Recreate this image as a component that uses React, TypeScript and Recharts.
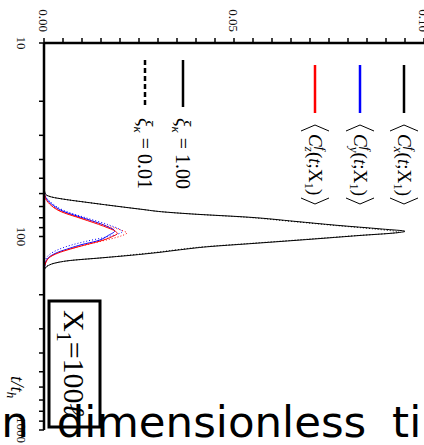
import { LineChart, Line, XAxis, YAxis } from "recharts";

// axis ticks (time is log scale)
const X_TICKS = [10, 20, 30, 40, 50, 60, 70, 80, 90, 100, 200, 300, 400, 500, 600, 700, 800, 900, 1000];
const X_LABELED = [10, 100, 1000];
const Y_TICKS = [
  0, 0.005, 0.01, 0.015, 0.02, 0.025, 0.03, 0.035, 0.04, 0.045, 0.05,
  0.055, 0.06, 0.065, 0.07, 0.075, 0.08, 0.085, 0.09, 0.095, 0.1,
];
const Y_LABELS: Record<string, string> = { "0": "0.00", "0.05": "0.05", "0.1": "0.10" };

// <C_x^f>, xi = 1.00 (solid) and xi = 0.01 (dotted)
const tCx1 = [10, 30, 55, 60, 62.5, 64.5, 66.5, 68.5, 70.5, 72.5, 74.5, 76.5, 79.5, 83.5, 87.5, 91.5, 94, 96, 98.5, 102, 105.5, 109, 113, 117, 121, 125, 129, 133, 137, 141, 146, 152, 200, 1000];
const cx1 = [0, 0, 0, 0.0003, 0.002, 0.006, 0.011, 0.016, 0.021, 0.026, 0.031, 0.039, 0.054, 0.066, 0.077, 0.089, 0.095, 0.092, 0.084, 0.074, 0.064, 0.054, 0.043, 0.036, 0.03, 0.023, 0.015, 0.007, 0.003, 0.0012, 0.0003, 0, 0, 0];
const tCx001 = [10, 55, 60, 62.5, 64.5, 66.5, 68.5, 70.5, 72.5, 74.5, 76.5, 79.5, 83.5, 87.5, 91.5, 95, 97, 99, 102, 105.5, 109, 113, 117, 121, 125, 129, 133, 137, 141, 146, 152, 1000];
const cx001 = [0, 0, 0.0003, 0.002, 0.006, 0.011, 0.016, 0.021, 0.026, 0.031, 0.039, 0.053, 0.065, 0.076, 0.087, 0.0935, 0.089, 0.082, 0.073, 0.063, 0.053, 0.042, 0.035, 0.029, 0.022, 0.015, 0.007, 0.003, 0.0012, 0.0003, 0, 0];

// <C_y^f>
const tCy1 = [10, 56, 60, 62.5, 68, 74, 81, 88.5, 93.7, 98.5, 105.5, 110, 115, 121, 127, 135, 142, 155, 1000];
const cy1 = [0, 0, 0.0001, 0.0004, 0.002, 0.005, 0.011, 0.0165, 0.0186, 0.017, 0.0139, 0.01, 0.0068, 0.0035, 0.0015, 0.0005, 0.0002, 0, 0];
const tCy001 = [10, 56, 62, 67, 73, 80, 87, 92, 94.5, 97, 101, 106, 111, 117, 124, 132, 140, 152, 1000];
const cy001 = [0, 0, 0.0004, 0.002, 0.005, 0.011, 0.017, 0.02, 0.0206, 0.0195, 0.016, 0.011, 0.007, 0.0037, 0.0014, 0.0004, 0.0001, 0, 0];

// <C_z^f>
const tCz1 = [10, 56, 62.5, 68, 74, 81, 88.5, 94, 96.5, 100, 106, 111, 116, 122, 128, 136, 145, 158, 1000];
const cz1 = [0, 0, 0.0003, 0.0015, 0.0042, 0.01, 0.0157, 0.0188, 0.0193, 0.018, 0.0145, 0.0105, 0.007, 0.0036, 0.0015, 0.0005, 0.0001, 0, 0];
const tCz001 = [10, 56, 63, 68, 74, 81, 88, 93, 96, 99, 103, 108, 113, 119, 126, 134, 143, 156, 1000];
const cz001 = [0, 0, 0.0003, 0.0016, 0.0045, 0.0105, 0.0165, 0.0205, 0.0218, 0.0205, 0.0175, 0.013, 0.009, 0.005, 0.002, 0.0006, 0.0001, 0, 0];

const zip = (ts: number[], vs: number[]) => ts.map((t, i) => ({ t, v: vs[i] }));

const SERIF = "'Liberation Serif', 'DejaVu Serif', serif";
const BLUE = "#0000ff";
const RED = "#ff0000";

function XTick({ x, y, payload }: any) {
  if (!X_LABELED.includes(payload.value)) return <g />;
  return (
    <text x={x} y={y + 20} textAnchor="middle" fontSize={13} fontFamily={SERIF} fill="#111">
      {payload.value}
    </text>
  );
}

function YTick({ x, y, payload }: any) {
  const label = Y_LABELS[String(payload.value)];
  if (!label) return <g />;
  return (
    <text x={x - 4} y={y} dy="0.35em" textAnchor="end" fontSize={13} fontFamily={SERIF} fill="#111">
      {label}
    </text>
  );
}

function Bracket({ x, y, open }: { x: number; y: number; open: boolean }) {
  const d = open ? `M${x + 6},${y - 14} L${x},${y} L${x + 6},${y + 14}` : `M${x},${y - 14} L${x + 6},${y} L${x},${y + 14}`;
  return <path d={d} fill="none" stroke="#000" strokeWidth={1} />;
}

function CEntry({ y, axis, color }: { y: number; axis: string; color: string }) {
  return (
    <g>
      <line x1={65} x2={113} y1={y} y2={y} stroke={color} strokeWidth={2.5} />
      <Bracket x={125} y={y} open />
      <text x={134} y={y + 6} fontSize={19} fontFamily={SERIF}>
        <tspan fontStyle="italic">C</tspan>
        <tspan fontSize={13} fontStyle="italic" dy={-8}>f</tspan>
        <tspan fontSize={13} fontStyle="italic" dx={-3.5} dy={12}>{axis}</tspan>
        <tspan dy={-4}>(</tspan>
        <tspan fontStyle="italic">t</tspan>
        <tspan>;</tspan>
        <tspan>X</tspan>
        <tspan fontSize={13} dy={4}>1</tspan>
        <tspan dy={-4}>)</tspan>
      </text>
      <Bracket x={198} y={y} open={false} />
    </g>
  );
}

function XiEntry({ y, value, dashed }: { y: number; value: string; dashed: boolean }) {
  return (
    <g>
      <line x1={60} x2={107} y1={y} y2={y} stroke="#000" strokeWidth={2.5} strokeDasharray={dashed ? "5 3" : undefined} />
      <text x={118} y={y + 7} fontSize={20} fontFamily={SERIF}>
        <tspan fontStyle="italic">ξ</tspan>
        <tspan fontSize={13} fontStyle="italic" dy={4}>κ</tspan>
        <tspan dy={-4}>{" = " + value}</tspan>
      </text>
    </g>
  );
}

export default function App() {
  return (
    <div style={{ position: "fixed", left: 0, top: 0, width: 424, height: 445, overflow: "hidden", background: "#fff" }}>
      {/* the whole figure is drawn rotated 90deg clockwise */}
      <div
        style={{
          position: "absolute",
          left: 0,
          top: 0,
          width: 445,
          height: 424,
          transformOrigin: "0 0",
          transform: "translate(424px, 0) rotate(90deg)",
        }}
      >
        <LineChart width={445} height={424} margin={{ top: 0, right: 15, bottom: 0, left: 0 }} style={{ fontFamily: SERIF }}>
          <XAxis
            dataKey="t"
            type="number"
            scale="log"
            domain={[10, 1000]}
            ticks={X_TICKS}
            interval={0}
            height={44}
            tickSize={5}
            axisLine={{ stroke: "#000", strokeWidth: 2.5 }}
            tickLine={{ stroke: "#000", strokeWidth: 1.5 }}
            tick={<XTick />}
          />
          <YAxis
            type="number"
            domain={[0, 0.1]}
            ticks={Y_TICKS}
            interval={0}
            width={43}
            tickSize={5}
            axisLine={{ stroke: "#000", strokeWidth: 2.5 }}
            tickLine={{ stroke: "#000", strokeWidth: 1.5 }}
            tick={<YTick />}
          />
          <Line data={zip(tCx1, cx1)} dataKey="v" type="monotone" stroke="#000" strokeWidth={1} dot={false} isAnimationActive={false} />
          <Line data={zip(tCx001, cx001)} dataKey="v" type="monotone" stroke="#000" strokeWidth={1} strokeDasharray="1 2" dot={false} isAnimationActive={false} />
          <Line data={zip(tCy001, cy001)} dataKey="v" type="monotone" stroke={BLUE} strokeWidth={1} strokeDasharray="1 2" dot={false} isAnimationActive={false} />
          <Line data={zip(tCy1, cy1)} dataKey="v" type="monotone" stroke={BLUE} strokeWidth={1} dot={false} isAnimationActive={false} />
          <Line data={zip(tCz001, cz001)} dataKey="v" type="monotone" stroke={RED} strokeWidth={1} strokeDasharray="1 2" dot={false} isAnimationActive={false} />
          <Line data={zip(tCz1, cz1)} dataKey="v" type="monotone" stroke={RED} strokeWidth={1} dot={false} isAnimationActive={false} />
        </LineChart>
        <svg width={445} height={424} style={{ position: "absolute", left: 0, top: 0, pointerEvents: "none" }}>
          <CEntry y={20} axis="x" color="#000" />
          <CEntry y={64} axis="y" color={BLUE} />
          <CEntry y={109} axis="z" color={RED} />
          <XiEntry y={241} value="1.00" dashed={false} />
          <XiEntry y={279} value="0.01" dashed />
          <text x={376} y={413} fontSize={19} fontFamily={SERIF} fontStyle="italic">
            t/t<tspan fontSize={13} dy={4}>h</tspan>
          </text>
          <rect x={301} y={324} width={126} height={51} fill="none" stroke="#000" strokeWidth={3} />
          <text x={310} y={360} fontSize={30} fontFamily={SERIF}>
            X<tspan fontSize={20} dy={7}>1</tspan>
            <tspan dy={-7}>=100</tspan>
            <tspan fontStyle="italic">ℓ</tspan>
          </text>
        </svg>
      </div>
      <svg width={424} height={445} style={{ position: "absolute", left: 0, top: 0, pointerEvents: "none" }}>
        <text x={-57.8} y={437} fontSize={43.5} fontFamily="'DejaVu Sans', sans-serif">
          <tspan>Non</tspan>
          <tspan dx={14}> dimensionless</tspan>
          <tspan dx={12}> time</tspan>
        </text>
      </svg>
    </div>
  );
}
